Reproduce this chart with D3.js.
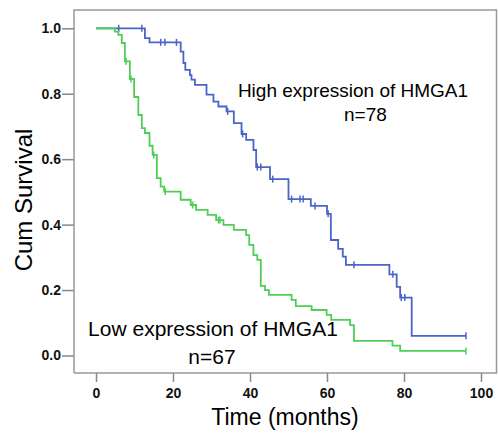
<!DOCTYPE html>
<html>
<head>
<meta charset="utf-8">
<script src="https://cdn.jsdelivr.net/npm/d3@7"></script>
<style>
  body { margin: 0; background: #fff; }
  svg { display: block; font-family: "Liberation Sans", Arial, sans-serif; }
</style>
</head>
<body>
<div id="chart"></div>
<script>
// high expression of HMGA1 (n=78): step times and survival after each step
var highTimes = [0, 12.7, 13.9, 22.0, 22.7, 23.2, 24.4, 24.8, 25.7, 28.7, 30.5, 31.8, 33.9, 35.8, 37.8, 39.0, 40.9, 41.6, 45.2, 50.0, 55.8, 60.0, 61.0, 62.9, 64.1, 64.9, 76.2, 78.1, 79.0, 82.0];
var highSurv  = [1.0, 0.970, 0.957, 0.929, 0.894, 0.873, 0.857, 0.843, 0.827, 0.797, 0.776, 0.761, 0.746, 0.710, 0.677, 0.659, 0.628, 0.576, 0.539, 0.478, 0.457, 0.433, 0.353, 0.326, 0.302, 0.277, 0.248, 0.210, 0.177, 0.060];
var highCensored = [5.9, 11.9, 16.8, 17.9, 20.9, 34.2, 38.1, 41.9, 42.8, 45.9, 50.8, 53.0, 53.8, 56.9, 60.3, 67.0, 77.1, 79.3, 80.2, 96.1];

// low expression of HMGA1 (n=67)
var lowTimes = [0, 4.9, 5.8, 6.7, 7.5, 8.8, 9.9, 11.0, 11.9, 12.7, 13.9, 14.7, 15.8, 16.8, 17.7, 22.0, 24.6, 26.0, 29.0, 31.2, 33.1, 35.8, 39.0, 39.8, 40.9, 41.9, 42.8, 43.9, 44.9, 50.8, 51.9, 56.0, 59.9, 61.1, 66.0, 67.0, 77.0, 79.0];
var lowSurv  = [1.0, 0.990, 0.980, 0.955, 0.899, 0.845, 0.790, 0.735, 0.695, 0.680, 0.641, 0.613, 0.542, 0.516, 0.501, 0.476, 0.460, 0.445, 0.430, 0.414, 0.399, 0.384, 0.368, 0.338, 0.307, 0.292, 0.213, 0.200, 0.185, 0.170, 0.151, 0.139, 0.124, 0.109, 0.093, 0.045, 0.030, 0.014];
var lowCensored = [7.8, 9.1, 15.0, 18.0, 25.1, 31.8, 32.2, 96.1];

var xTicks = [0, 20, 40, 60, 80, 100];
var yTicks = [0.0, 0.2, 0.4, 0.6, 0.8, 1.0];

var W = 498, H = 433;
var svg = d3.select("#chart").append("svg")
    .attr("width", W)
    .attr("height", H);

var x = d3.scaleLinear().domain([0, 100]).range([96, 481]);
var y = d3.scaleLinear().domain([0, 1]).range([355.5, 28.3]);

// frame
var frameL = 74, frameT = 10, frameR = 496.5, frameB = 373;
svg.append("path")
    .attr("d", "M" + frameL + "," + frameB + "V" + frameT + "H" + frameR + "V" + frameB + "H" + frameL)
    .style("fill", "none")
    .style("stroke", "#999")
    .style("stroke-width", 1.5);

// y axis
var yAxis = svg.append("g")
    .attr("transform", "translate(" + frameL + ",0)")
    .call(d3.axisLeft(y).tickValues(yTicks).tickSize(12).tickPadding(1).tickFormat(d3.format(".1f")));
yAxis.select(".domain").remove();
yAxis.selectAll("line").style("stroke", "#888").style("stroke-width", 1.5);
yAxis.selectAll("text").style("font-size", "14px").style("font-weight", "bold").style("fill", "#111")
    .attr("font-family", null);

// x axis
var xAxis = svg.append("g")
    .attr("transform", "translate(0," + frameB + ")")
    .call(d3.axisBottom(x).tickValues(xTicks).tickSize(9).tickPadding(6));
xAxis.select(".domain").remove();
xAxis.selectAll("line").style("stroke", "#888").style("stroke-width", 1.5);
xAxis.selectAll("text").style("font-size", "14px").style("font-weight", "bold").style("fill", "#111")
    .attr("font-family", null);

// axis titles
svg.append("text")
    .attr("x", 285).attr("y", 425)
    .attr("text-anchor", "middle")
    .style("font-size", "23px")
    .text("Time (months)");
svg.append("text")
    .attr("transform", "translate(32,200) rotate(-90)")
    .attr("text-anchor", "middle")
    .style("font-size", "24px")
    .text("Cum Survival");

function stepAt(times, surv, t) {
    var i = d3.bisectRight(times, t) - 1;
    return surv[Math.max(0, i)];
}

var line = d3.line()
    .x(function(d){ return x(d[0]); })
    .y(function(d){ return y(d[1]); })
    .curve(d3.curveStepAfter);

var groups = [
    {times: highTimes, surv: highSurv, cens: highCensored, color: "#4a64c8"},
    {times: lowTimes, surv: lowSurv, cens: lowCensored, color: "#4fce55"}
];

groups.forEach(function(g) {
    var pts = g.times.map(function(t, i){ return [t, g.surv[i]]; });
    var last = d3.max(g.cens);
    pts.push([last, g.surv[g.surv.length - 1]]);
    svg.append("path")
        .datum(pts)
        .attr("d", line)
        .style("fill", "none")
        .style("stroke", g.color)
        .style("stroke-width", 1.8);
    svg.selectAll(null)
        .data(g.cens)
        .enter()
        .append("line")
        .attr("x1", function(d){ return x(d); })
        .attr("x2", function(d){ return x(d); })
        .attr("y1", function(d){ return y(stepAt(g.times, g.surv, d)) - 3.5; })
        .attr("y2", function(d){ return y(stepAt(g.times, g.surv, d)) + 3.5; })
        .style("stroke", g.color)
        .style("stroke-width", 1.5);
});

// group labels
svg.append("text").attr("x", 353).attr("y", 97).attr("text-anchor", "middle")
    .style("font-size", "19px").text("High expression of HMGA1");
svg.append("text").attr("x", 344).attr("y", 121)
    .style("font-size", "19px").text("n=78");
svg.append("text").attr("x", 213).attr("y", 336).attr("text-anchor", "middle")
    .style("font-size", "21px").text("Low expression of HMGA1");
svg.append("text").attr("x", 212).attr("y", 364).attr("text-anchor", "middle")
    .style("font-size", "21px").text("n=67");
</script>
</body>
</html>
